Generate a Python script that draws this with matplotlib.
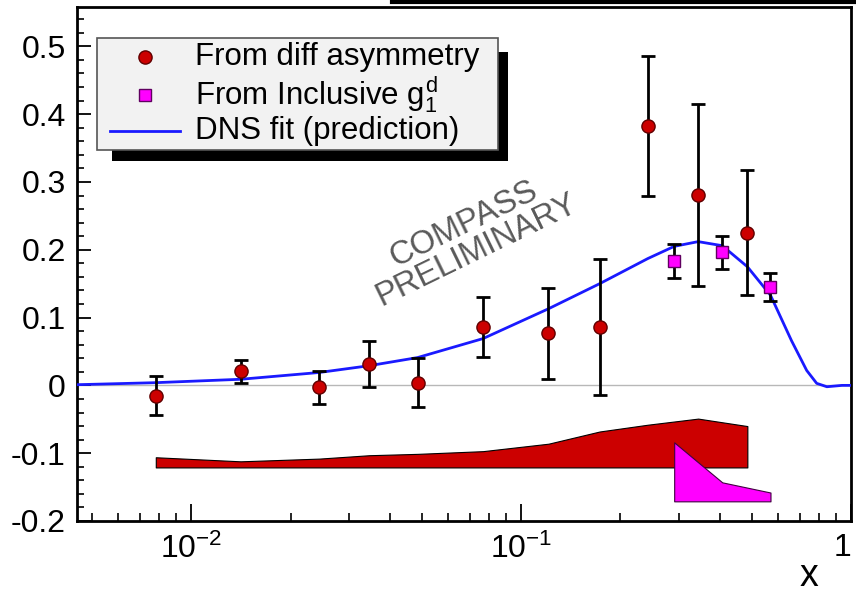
import numpy as np
import matplotlib
matplotlib.use('Agg')
import matplotlib.pyplot as plt
from matplotlib.patches import Rectangle
from matplotlib.lines import Line2D
from matplotlib.ticker import FixedLocator, FixedFormatter, MultipleLocator, LogLocator, NullFormatter

plt.rcParams['font.family'] = ['Liberation Sans', 'DejaVu Sans']
plt.rcParams['mathtext.fontset'] = 'custom'
plt.rcParams['mathtext.rm'] = 'Liberation Sans'
plt.rcParams['mathtext.it'] = 'Liberation Sans'
plt.rcParams['axes.unicode_minus'] = False

# ---------------- data ----------------
x_diff = [0.0078, 0.0141, 0.0244, 0.0346, 0.0485, 0.0766, 0.121, 0.173, 0.242, 0.344, 0.485]
y_diff = [-0.015, 0.021, -0.003, 0.031, 0.004, 0.086, 0.077, 0.086, 0.383, 0.281, 0.225]
err_diff = [0.029, 0.017, 0.024, 0.034, 0.036, 0.044, 0.067, 0.100, 0.103, 0.134, 0.092]

x_incl = [0.291, 0.407, 0.570]
y_incl = [0.183, 0.196, 0.145]
err_incl = [0.025, 0.024, 0.021]

curve_x = [0.0045, 0.0078, 0.0141, 0.0244, 0.0346, 0.0485, 0.0766, 0.121, 0.173,
           0.242, 0.291, 0.344, 0.407, 0.485, 0.570, 0.660, 0.734, 0.787, 0.845, 0.939, 1.0]
curve_y = [0.001, 0.004, 0.009, 0.019, 0.029, 0.041, 0.069, 0.113, 0.150,
           0.187, 0.205, 0.212, 0.206, 0.175, 0.133, 0.066, 0.022, 0.003, -0.002, 0.0, 0.0]

band_diff_x = [0.0078, 0.0141, 0.0244, 0.0346, 0.0485, 0.0766, 0.121, 0.173, 0.242, 0.344, 0.485]
band_diff_top = [-0.106, -0.112, -0.108, -0.103, -0.101, -0.097, -0.086, -0.068, -0.058, -0.049, -0.060]
band_diff_bottom = -0.121

band_incl_x = [0.291, 0.407, 0.570]
band_incl_top = [-0.084, -0.143, -0.158]
band_incl_bottom = -0.171

x_major = [0.01, 0.1, 1.0]
x_labels = ['$10^{-2}$', '$10^{-1}$', '1']
y_major = [-0.2, -0.1, 0.0, 0.1, 0.2, 0.3, 0.4, 0.5]
y_labels = ['-0.2', '-0.1', '0', '0.1', '0.2', '0.3', '0.4', '0.5']

legend_labels = ['From diff asymmetry', 'From Inclusive $g_1^d$', 'DNS fit (prediction)']
watermark = 'COMPASS\nPRELIMINARY'

# ---------------- figure ----------------
W, H = 856, 595
fig = plt.figure(figsize=(W / 100, H / 100), dpi=100)
fx = lambda px: px / W
fy = lambda py: 1 - py / H

ax = fig.add_axes([fx(77), fy(521), (851 - 77) / W, (521 - 7) / H])
ax.set_xscale('log')
ax.set_xlim(0.0045, 1.0)
ax.set_ylim(-0.2, 0.558)

ax.axhline(0, color='#b8b8b8', lw=1.0, zorder=1)

red = '#cc0000'
mag = '#ff00ff'

ax.fill_between(band_diff_x, band_diff_bottom, band_diff_top, facecolor=red,
                edgecolor='black', lw=0.8, zorder=2)
ax.fill_between(band_incl_x, band_incl_bottom, band_incl_top, facecolor=mag,
                edgecolor='#400040', lw=0.8, zorder=3)

ax.plot(curve_x, curve_y, color='#1a1aff', lw=2.0, zorder=4)

ax.errorbar(x_diff, y_diff, yerr=err_diff, fmt='none', ecolor='black',
            elinewidth=2.0, capsize=5, capthick=2.0, zorder=5)
ax.errorbar(x_incl, y_incl, yerr=err_incl, fmt='none', ecolor='black',
            elinewidth=2.0, capsize=5, capthick=2.0, zorder=5)
ax.plot(x_diff, y_diff, 'o', ms=9.5, mfc=red, mec='#600000', mew=1.0, ls='none', zorder=6)
ax.plot(x_incl, y_incl, 's', ms=9, mfc=mag, mec='#600060', mew=1.0, ls='none', zorder=6)

# ticks
ax.xaxis.set_major_locator(FixedLocator(x_major))
ax.xaxis.set_major_formatter(FixedFormatter(x_labels))
ax.xaxis.set_minor_locator(LogLocator(base=10, subs=np.arange(2, 10)))
ax.xaxis.set_minor_formatter(NullFormatter())
ax.yaxis.set_major_locator(FixedLocator(y_major))
ax.yaxis.set_major_formatter(FixedFormatter(y_labels))
ax.yaxis.set_minor_locator(MultipleLocator(0.02))

ax.tick_params(axis='x', which='major', direction='in', length=12, width=1.3,
               top=False, labelsize=23, pad=9)
ax.tick_params(axis='x', which='minor', direction='in', length=6, width=1.2, top=False)
ax.tick_params(axis='y', which='major', direction='in', length=10, width=1.3,
               right=False, labelsize=23, pad=8)
ax.tick_params(axis='y', which='minor', direction='in', length=5, width=1.2, right=False)
for s in ax.spines.values():
    s.set_linewidth(2.0)
xt = ax.get_xticklabels()
xt[-1].set_ha('right')

# watermark
ax.text(0.508, 0.553, watermark, transform=ax.transAxes, rotation=26,
        rotation_mode='anchor', ha='center', va='center', multialignment='center',
        fontsize=23.5, color='#5a5a5a', linespacing=0.92, zorder=3)

# x label
fig.text(fx(809), fy(586), 'x', fontsize=27, ha='center', va='baseline')

# top bar (title box shadow)
fig.add_artist(Line2D([fx(392), 1.0], [fy(1.5), fy(1.5)], color='black', lw=3,
                      transform=fig.transFigure))

# legend (manual, ROOT-style with black shadow)
fig.add_artist(Rectangle((fx(112), fy(161)), fx(508) - fx(112), fy(52) - fy(161),
                         transform=fig.transFigure, facecolor='black', edgecolor='none', zorder=10))
fig.add_artist(Rectangle((fx(97), fy(150)), fx(498) - fx(97), fy(38) - fy(150),
                         transform=fig.transFigure, facecolor='#f2f2f2', edgecolor='#555555',
                         lw=1.2, zorder=11))
rows = [57, 95, 131]
fig.add_artist(Line2D([fx(145)], [fy(rows[0])], marker='o', ms=9.5, mfc=red, mec='#600000',
                      mew=1.0, transform=fig.transFigure, zorder=12))
fig.add_artist(Line2D([fx(145)], [fy(rows[1])], marker='s', ms=9, mfc=mag, mec='#600060',
                      mew=1.0, transform=fig.transFigure, zorder=12))
fig.add_artist(Line2D([fx(110), fx(180)], [fy(rows[2]), fy(rows[2])], color='#1a1aff', lw=2,
                      transform=fig.transFigure, zorder=12))
for lab, r in zip(legend_labels, rows):
    fig.text(fx(195), fy(r), lab, fontsize=22.5, ha='left', va='center', zorder=13)

fig.savefig('out.png', dpi=100)
